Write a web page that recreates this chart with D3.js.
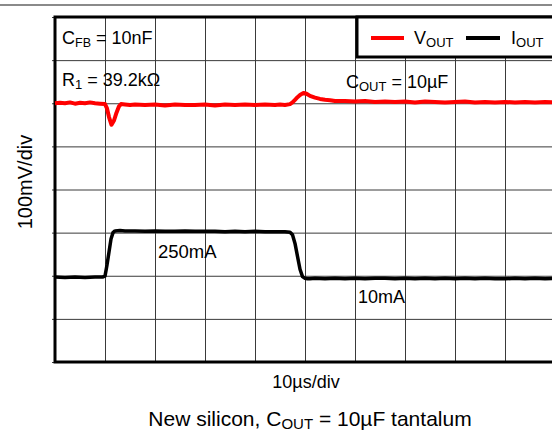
<!DOCTYPE html>
<html><head><meta charset="utf-8">
<script src="https://cdn.jsdelivr.net/npm/d3@7"></script>
<style>
html,body{margin:0;padding:0;background:#fff;}
svg{display:block;font-family:"Liberation Sans",Arial,sans-serif;}
</style></head>
<body>
<svg id="chart" width="552" height="435"></svg>
<script>
// time in µs (10 µs/div), value in screen divisions (0 = bottom, 8 = top)
const xTicks = [0,10,20,30,40,50,60,70,80,90,100];
const yTicks = [0,1,2,3,4,5,6,7,8];

const voutTime = [0,1,2,3,4,5,6,7,8,9,10,10.4,10.8,11.3,11.8,12.3,12.8,13.2,14,15,16,18,20,22,24,26,28,30,32,34,36,38,40,42,44,45,46,47,47.5,48,48.5,49,49.7,50.3,51,52,53,54,55,56,58,60,62,64,66,68,70,72,74,76,78,80,82,84,86,88,90,92,94,96,98,100];
const voutVal  = [6.00,6.01,6.00,6.02,5.99,6.01,6.00,6.02,6.00,5.99,5.98,5.88,5.68,5.50,5.60,5.78,5.93,5.98,5.97,5.96,5.97,5.96,5.97,5.95,5.97,5.96,5.96,5.97,5.95,5.97,5.96,5.97,5.96,5.97,5.96,5.97,5.96,5.98,6.02,6.08,6.14,6.19,6.24,6.22,6.17,6.13,6.10,6.08,6.07,6.05,6.05,6.04,6.05,6.03,6.04,6.03,6.04,6.02,6.04,6.03,6.02,6.03,6.04,6.02,6.03,6.02,6.03,6.02,6.03,6.02,6.03,6.02];

const ioutTime = [0,2,4,6,8,9.5,10,10.4,10.8,11.2,11.6,12,13,14,16,18,20,22,24,26,28,30,32,34,36,38,40,42,44,46,47,47.5,48,48.5,49,49.5,50,50.5,51,52,54,56,58,60,62,64,66,68,70,72,74,76,78,80,82,84,86,88,90,92,94,96,98,100];
const ioutVal  = [1.97,1.96,1.97,1.96,1.97,1.97,1.99,2.25,2.55,2.85,3.00,3.04,3.05,3.04,3.04,3.03,3.04,3.03,3.03,3.04,3.03,3.03,3.03,3.02,3.03,3.02,3.03,3.02,3.02,3.02,3.01,2.95,2.75,2.45,2.15,1.98,1.94,1.93,1.93,1.94,1.93,1.94,1.93,1.94,1.93,1.94,1.94,1.93,1.94,1.93,1.94,1.93,1.94,1.93,1.94,1.93,1.94,1.93,1.93,1.94,1.93,1.94,1.93,1.94];

const svg = d3.select("#chart");
const L = 55, R = 555, T = 17, B = 362;
const x = d3.scaleLinear().domain([0,100]).range([L,R]);
const y = d3.scaleLinear().domain([0,8]).range([B,T]);

// top separator line
svg.append("line").attr("x1",0).attr("x2",552).attr("y1",5).attr("y2",5)
  .attr("stroke","#8a8a8a").attr("stroke-width",2);

// grid
const gx = svg.append("g").attr("transform",`translate(0,${B})`)
  .call(d3.axisBottom(x).tickValues(xTicks).tickSize(-(B-T)).tickFormat(""));
gx.select(".domain").remove();
gx.selectAll("line").attr("stroke","#3a3a3a").attr("stroke-width",1);
const gy = svg.append("g").attr("transform",`translate(${L},0)`)
  .call(d3.axisLeft(y).tickValues(yTicks).tickSize(-(R-L)).tickSizeOuter(0).tickFormat(""));
gy.select(".domain").remove();
gy.selectAll("line").attr("stroke","#3a3a3a").attr("stroke-width",1).attr("x1",-3);

// frame
svg.append("rect").attr("x",L).attr("y",T).attr("width",R-L).attr("height",B-T)
  .attr("fill","none").attr("stroke","#000").attr("stroke-width",3);

const line = d3.line().x(d=>x(d[0])).y(d=>y(d[1]));
svg.append("path").datum(voutTime.map((t,i)=>[t,voutVal[i]]))
  .attr("d",line).attr("fill","none").attr("stroke","#ff0000").attr("stroke-width",4)
  .attr("stroke-linejoin","round");
svg.append("path").datum(ioutTime.map((t,i)=>[t,ioutVal[i]]))
  .attr("d",line).attr("fill","none").attr("stroke","#000").attr("stroke-width",3.5)
  .attr("stroke-linejoin","round");

// legend
const lg = svg.append("g");
lg.append("rect").attr("x",357).attr("y",17).attr("width",210).attr("height",40)
  .attr("fill","#fff").attr("stroke","#000").attr("stroke-width",3);
lg.append("line").attr("x1",371).attr("x2",404).attr("y1",38).attr("y2",38).attr("stroke","#ff0000").attr("stroke-width",4);
lg.append("line").attr("x1",466).attr("x2",500).attr("y1",38).attr("y2",38).attr("stroke","#000").attr("stroke-width",4);

function subText(xp, yp, main, sub, rest, size, subSize, shift, anchor){
  const t = svg.append("text").attr("x",xp).attr("y",yp).attr("font-size",size)
    .attr("fill","#000").attr("text-anchor",anchor||"start");
  t.append("tspan").text(main);
  t.append("tspan").attr("font-size",subSize).attr("dy",shift).text(sub);
  if (rest) t.append("tspan").attr("dy",-shift).text(rest);
  return t;
}
subText(414,44,"V","OUT","",18,13,2.5);
subText(511,44,"I","OUT","",18,13,2.5);

subText(62,44,"C","FB"," = 10nF",18,12.5,2.5);
subText(62,86,"R","1"," = 39.2kΩ",18,13,3);
subText(346,88,"C","OUT"," = 10µF",18,13,2.5);

svg.append("text").attr("x",158).attr("y",258).attr("font-size",18.5).text("250mA");
svg.append("text").attr("x",358).attr("y",303).attr("font-size",18).text("10mA");

svg.append("text").attr("x",306).attr("y",388).attr("font-size",18)
  .attr("text-anchor","middle").text("10µs/div");
svg.append("text").attr("transform","translate(32,182) rotate(-90)").attr("font-size",20)
  .attr("text-anchor","middle").text("100mV/div");

subText(310,426,"New silicon, C","OUT"," = 10µF tantalum",21,15,3,"middle");
</script>
</body></html>
